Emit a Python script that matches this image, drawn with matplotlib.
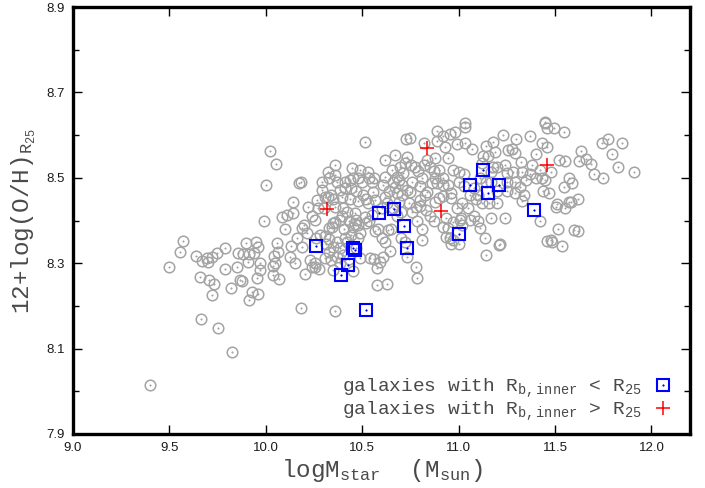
import matplotlib
matplotlib.use("Agg")
import matplotlib.pyplot as plt
from matplotlib.lines import Line2D
from matplotlib.legend_handler import HandlerTuple

plt.rcParams['mathtext.fontset'] = 'custom'
plt.rcParams['mathtext.rm'] = 'Liberation Mono'
plt.rcParams['mathtext.it'] = 'Liberation Mono'
plt.rcParams['mathtext.tt'] = 'Liberation Mono'

# Full sample: stellar mass vs. oxygen abundance at R25
gray_logm = [
    9.400, 9.500, 9.555, 9.570, 9.637, 9.668, 9.694, 9.700, 9.720, 9.746,
    9.787, 9.787, 9.658, 9.705, 9.730, 9.720, 9.663, 9.751, 9.824, 9.820,
    9.855, 9.865, 9.876, 9.880, 9.896, 9.850,
    9.907, 9.912, 9.912, 9.927, 9.938, 9.948, 9.953, 9.958, 9.958, 9.969,
    9.969, 9.990, 10.000, 10.020, 10.052, 10.040, 10.036, 10.036, 10.062, 10.057,
    10.067, 10.050, 10.083, 10.109, 10.140, 10.140, 10.124, 10.130, 10.181, 10.187,
    10.187, 10.200, 10.212, 10.170, 10.185, 10.100, 10.160, 10.202, 10.150,
    10.218, 10.240, 10.254, 10.264, 10.270, 10.290, 10.290, 10.306, 10.320, 10.320,
    10.340, 10.357, 10.357, 10.383, 10.410, 10.435, 10.446, 10.435, 10.420, 10.460,
    10.470, 10.477, 10.450, 10.460, 10.383, 10.347, 10.360, 10.330, 10.345, 10.280,
    10.306, 10.330, 10.368, 10.420, 10.347, 10.383, 10.330, 10.368, 10.306, 10.340,
    10.254, 10.228, 10.240, 10.254, 10.275, 10.347, 10.383, 10.450, 10.358, 10.400,
    10.395, 10.470, 10.480, 10.410, 10.370, 10.440, 10.350, 10.395, 10.430, 10.300,
    10.260, 10.310, 10.405, 10.440, 10.410, 10.480, 10.470, 10.400, 10.430, 10.490,
    10.360, 10.330, 10.450, 10.480,
    10.487, 10.513, 10.528, 10.534, 10.500, 10.550, 10.560, 10.503, 10.554, 10.520,
    10.565, 10.530, 10.513, 10.550, 10.520, 10.535, 10.580, 10.565, 10.632, 10.650,
    10.617, 10.606, 10.620, 10.653, 10.668, 10.694, 10.710, 10.720, 10.730, 10.725,
    10.746, 10.679, 10.690, 10.658, 10.705, 10.670, 10.730, 10.746, 10.756, 10.679,
    10.705, 10.640, 10.620, 10.600, 10.630, 10.660, 10.690, 10.700, 10.680, 10.745,
    10.780, 10.782, 10.760, 10.800, 10.642, 10.590, 10.575, 10.560, 10.540, 10.487,
    10.606, 10.575, 10.627, 10.730, 10.777, 10.782, 10.755, 10.772, 10.790, 10.620,
    10.600, 10.700, 10.720,
    10.820, 10.886, 10.917, 10.953, 10.886, 10.927, 10.943, 10.880, 10.834, 10.820,
    10.850, 10.870, 10.900, 10.917, 10.880, 10.887, 10.860, 10.917, 10.943, 10.960,
    10.920, 10.960, 10.900, 10.834, 10.825, 10.800, 10.810, 10.969, 11.000, 11.030,
    10.980, 11.031, 11.031, 11.031, 11.070, 10.990, 10.876, 10.800, 10.830, 10.850,
    10.870, 10.937, 10.969, 11.005, 10.917, 10.933, 10.969, 10.943, 10.953, 10.808,
    10.810, 10.990, 11.020, 11.047, 11.057, 11.020, 11.010, 11.000, 11.030, 11.060,
    11.080, 11.090, 10.960, 11.000,
    11.124, 11.119, 11.150, 11.176, 11.228, 11.295, 11.254, 11.275, 11.290, 11.326,
    11.176, 11.200, 11.238, 11.249, 11.280, 11.330, 11.352, 11.316, 11.340, 11.290,
    11.250, 11.170, 11.110, 11.140, 11.170, 11.200, 11.250, 11.290, 11.100, 11.120,
    11.160, 11.200, 11.238, 11.170, 11.109, 11.135, 11.207, 11.140, 11.212, 11.080,
    11.100, 11.368, 11.399, 11.380, 11.370, 11.330, 11.140, 11.190,
    11.430, 11.446, 11.450, 11.456, 11.497, 11.549, 11.460, 11.420, 11.430, 11.400,
    11.450, 11.480, 11.523, 11.550, 11.575, 11.549, 11.590, 11.617, 11.585, 11.575,
    11.503, 11.510, 11.550, 11.420, 11.513, 11.600, 11.617, 11.456, 11.480, 11.486,
    11.534, 11.637, 11.622, 11.660, 11.689, 11.746, 11.777, 11.845, 11.793, 11.824,
    11.907, 11.751, 11.700, 11.440, 11.470,
]
gray_oh = [
    8.015, 8.290, 8.326, 8.352, 8.317, 8.305, 8.312, 8.302, 8.315, 8.324,
    8.336, 8.286, 8.268, 8.261, 8.251, 8.226, 8.169, 8.148, 8.092, 8.242,
    8.324, 8.261, 8.258, 8.322, 8.347, 8.290,
    8.303, 8.322, 8.214, 8.233, 8.324, 8.350, 8.265, 8.228, 8.338, 8.300,
    8.284, 8.399, 8.483, 8.563, 8.532, 8.317, 8.293, 8.272, 8.326, 8.347,
    8.263, 8.300, 8.408, 8.413, 8.418, 8.443, 8.315, 8.340, 8.195, 8.338,
    8.382, 8.389, 8.371, 8.488, 8.490, 8.380, 8.360, 8.275, 8.300,
    8.432, 8.410, 8.401, 8.448, 8.430, 8.490, 8.471, 8.455, 8.514, 8.455,
    8.460, 8.507, 8.432, 8.471, 8.476, 8.495, 8.523, 8.450, 8.420, 8.418,
    8.401, 8.389, 8.385, 8.392, 8.401, 8.394, 8.397, 8.382, 8.384, 8.366,
    8.364, 8.356, 8.350, 8.350, 8.338, 8.336, 8.327, 8.315, 8.312, 8.307,
    8.300, 8.307, 8.290, 8.291, 8.287, 8.284, 8.300, 8.282, 8.188, 8.430,
    8.455, 8.470, 8.445, 8.490, 8.490, 8.475, 8.450, 8.410, 8.400, 8.430,
    8.360, 8.345, 8.380, 8.365, 8.360, 8.360, 8.335, 8.320, 8.310, 8.370,
    8.530, 8.500, 8.500, 8.500,
    8.518, 8.584, 8.514, 8.500, 8.490, 8.490, 8.500, 8.460, 8.467, 8.450,
    8.448, 8.440, 8.408, 8.413, 8.395, 8.400, 8.380, 8.375, 8.378, 8.380,
    8.502, 8.483, 8.542, 8.518, 8.553, 8.525, 8.511, 8.535, 8.549, 8.591,
    8.593, 8.502, 8.495, 8.490, 8.483, 8.478, 8.471, 8.467, 8.490, 8.464,
    8.460, 8.470, 8.455, 8.430, 8.440, 8.430, 8.443, 8.420, 8.410, 8.441,
    8.432, 8.400, 8.420, 8.448, 8.329, 8.303, 8.289, 8.310, 8.312, 8.312,
    8.315, 8.249, 8.251, 8.315, 8.291, 8.265, 8.530, 8.525, 8.515, 8.350,
    8.360, 8.360, 8.350,
    8.581, 8.610, 8.598, 8.603, 8.586, 8.572, 8.546, 8.546, 8.542, 8.530,
    8.525, 8.515, 8.518, 8.500, 8.500, 8.488, 8.488, 8.483, 8.483, 8.465,
    8.457, 8.452, 8.452, 8.467, 8.460, 8.480, 8.500, 8.518, 8.514, 8.510,
    8.607, 8.628, 8.619, 8.581, 8.567, 8.580, 8.443, 8.433, 8.425, 8.410,
    8.400, 8.406, 8.397, 8.401, 8.385, 8.362, 8.355, 8.382, 8.359, 8.354,
    8.380, 8.430, 8.440, 8.429, 8.401, 8.390, 8.405, 8.490, 8.480, 8.460,
    8.475, 8.450, 8.345, 8.345,
    8.551, 8.535, 8.550, 8.584, 8.600, 8.591, 8.565, 8.567, 8.558, 8.537,
    8.525, 8.525, 8.530, 8.511, 8.514, 8.514, 8.495, 8.478, 8.460, 8.490,
    8.490, 8.514, 8.500, 8.490, 8.490, 8.470, 8.470, 8.465, 8.460, 8.440,
    8.440, 8.440, 8.406, 8.405, 8.382, 8.359, 8.343, 8.319, 8.345, 8.410,
    8.400, 8.598, 8.556, 8.530, 8.510, 8.445, 8.575, 8.560,
    8.581, 8.630, 8.628, 8.617, 8.617, 8.607, 8.572, 8.518, 8.500, 8.500,
    8.495, 8.514, 8.542, 8.540, 8.500, 8.478, 8.488, 8.450, 8.443, 8.443,
    8.431, 8.438, 8.430, 8.399, 8.380, 8.378, 8.375, 8.352, 8.355, 8.350,
    8.340, 8.563, 8.539, 8.545, 8.532, 8.581, 8.591, 8.581, 8.556, 8.525,
    8.514, 8.500, 8.510, 8.470, 8.465,
]

# Galaxies whose inner break radius lies inside R25
inner_logm = [10.26, 10.45, 10.46, 10.425, 10.39, 10.585, 10.665, 10.715,
              10.73, 10.52, 11.00, 11.06, 11.125, 11.15, 11.21, 11.39]
inner_oh = [8.340, 8.335, 8.330, 8.296, 8.272, 8.418, 8.427, 8.387,
            8.336, 8.190, 8.368, 8.483, 8.518, 8.464, 8.483, 8.425]

# Galaxies whose inner break radius lies outside R25
outer_logm = [10.316, 10.834, 10.907, 11.46]
outer_oh = [8.427, 8.570, 8.422, 8.530]

x_ticks = [9.0, 9.5, 10.0, 10.5, 11.0, 11.5, 12.0]
y_ticks = [7.9, 8.1, 8.3, 8.5, 8.7, 8.9]
y_minor = [8.0, 8.2, 8.4, 8.6, 8.8]

GRAY = '#a4a4a4'
BLUE = '#0000ff'
RED = '#ff0000'
TXT = '#4a4a4a'

fig = plt.figure(figsize=(7.05, 4.88), dpi=100)
ax = fig.add_axes([73 / 705, 1 - 434 / 488, 617 / 705, 427 / 488])

ax.plot(gray_logm, gray_oh, linestyle='none', marker='o', ms=7.6,
        mfc='none', mec=GRAY, mew=1.1, zorder=2)
ax.plot(gray_logm, gray_oh, linestyle='none', marker='o', ms=1.1,
        mfc=GRAY, mec=GRAY, mew=0.3, zorder=2)

ax.plot(inner_logm, inner_oh, linestyle='none', marker='s', ms=8.0,
        mfc='none', mec=BLUE, mew=1.5, zorder=3)
ax.plot(inner_logm, inner_oh, linestyle='none', marker='o', ms=1.2,
        mfc=BLUE, mec=BLUE, mew=0.3, zorder=3)
ax.plot(outer_logm, outer_oh, linestyle='none', marker='+', ms=9.5,
        mec=RED, mew=1.1, zorder=4)

ax.set_xlim(9.0, 12.2)
ax.set_ylim(7.9, 8.9)
ax.set_xticks(x_ticks)
ax.set_xticklabels([f'{v:.1f}' for v in x_ticks])
ax.set_yticks(y_ticks)
ax.set_yticklabels([f'{v:.1f}' for v in y_ticks])
ax.set_yticks(y_minor, minor=True)

for s in ax.spines.values():
    s.set_linewidth(2.4)
    s.set_color('black')

ax.tick_params(axis='both', which='major', direction='in', length=6.5, width=1.0,
               top=True, right=True, pad=6, labelsize=9.5, labelcolor='#1a1a1a')
ax.tick_params(axis='y', which='minor', direction='in', length=4, width=1.0,
               left=True, right=True)
for lab in ax.get_xticklabels() + ax.get_yticklabels():
    lab.set_family('Liberation Sans')

ax.set_xlabel(r'logM$_{\rm star}$  (M$_{\rm sun}$)', family='Liberation Mono',
              fontsize=17.5, color=TXT)
ax.set_ylabel(r'12+log(O/H)$_{\rm R_{25}}$', family='Liberation Mono',
              fontsize=17.5, color=TXT)
ax.xaxis.set_label_coords(0.5, -0.055)
ax.yaxis.set_label_coords(-0.056, 0.5)

h_inner = (Line2D([], [], linestyle='none', marker='s', ms=8.0, mfc='none',
                  mec=BLUE, mew=1.5),
           Line2D([], [], linestyle='none', marker='o', ms=1.2, mfc=BLUE,
                  mec=BLUE, mew=0.3))
h_outer = Line2D([], [], linestyle='none', marker='+', ms=9.5, mec=RED, mew=1.1)
leg = ax.legend([h_inner, h_outer],
                [r'galaxies with R$_{\rm b,inner}$ < R$_{25}$',
                 r'galaxies with R$_{\rm b,inner}$ > R$_{25}$'],
                handler_map={tuple: HandlerTuple(ndivide=1, pad=0)},
                loc='lower right', bbox_to_anchor=(0.985, 0.008),
                frameon=False, markerfirst=False, borderaxespad=0,
                handlelength=1.0, handletextpad=0.6, labelspacing=-0.05,
                prop={'family': 'Liberation Mono', 'size': 14})
for t in leg.get_texts():
    t.set_color(TXT)

fig.savefig('out.png', dpi=100)
